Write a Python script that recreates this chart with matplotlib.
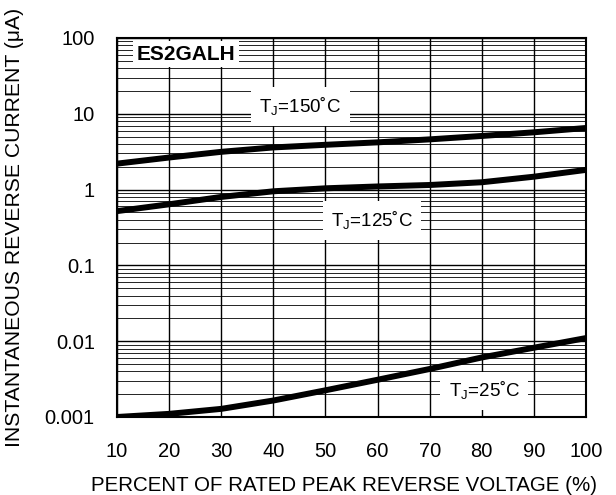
import numpy as np
import matplotlib.pyplot as plt
from matplotlib.ticker import LogLocator, FixedLocator, NullFormatter

plt.rcParams['font.family'] = ['Liberation Sans', 'DejaVu Sans']
plt.rcParams['mathtext.fontset'] = 'custom'
plt.rcParams['mathtext.rm'] = 'Liberation Sans'

# percent of rated peak reverse voltage
volt = [10, 20, 30, 40, 50, 60, 70, 80, 90, 100]
# reverse current (uA)
i_150 = [2.2, 2.65, 3.15, 3.6, 3.9, 4.2, 4.6, 5.1, 5.7, 6.5]
i_125 = [0.52, 0.64, 0.80, 0.95, 1.04, 1.10, 1.15, 1.25, 1.48, 1.82]
i_25 = [0.00100, 0.00110, 0.00128, 0.00165, 0.00225, 0.0031, 0.0043, 0.0061, 0.0082, 0.0110]

xticks = [10, 20, 30, 40, 50, 60, 70, 80, 90, 100]
yticks = [0.001, 0.01, 0.1, 1, 10, 100]
ylabels = ['0.001', '0.01', '0.1', '1', '10', '100']

fig = plt.figure(figsize=(6.16, 4.95), dpi=100)
ax = fig.add_axes([117/616, 1-417/495, 469/616, 379/495])

ax.set_yscale('log')
ax.set_xlim(10, 100)
ax.set_ylim(0.001, 100)

ax.xaxis.set_major_locator(FixedLocator(xticks))
ax.set_yticks(yticks)
ax.set_yticklabels(ylabels)
ax.yaxis.set_minor_locator(LogLocator(base=10, subs=np.arange(2, 10)))
ax.yaxis.set_minor_formatter(NullFormatter())

ax.grid(True, which='major', axis='both', color='black', lw=1.0)
ax.grid(True, which='minor', axis='y', color='black', lw=0.6)
ax.tick_params(axis='y', which='both', length=0, labelsize=14.5, pad=16)
ax.tick_params(axis='x', which='both', length=0, labelsize=14.5, pad=18)
for s in ax.spines.values():
    s.set_linewidth(1.5)

for y in (i_150, i_125, i_25):
    ax.plot(volt, y, color='black', lw=4.3, solid_capstyle='butt', zorder=3)

box = dict(facecolor='white', edgecolor='none', pad=6)
ax.text(13.8, 61, 'ES2GALH', fontsize=15, fontweight='bold', ha='left', va='center',
        bbox=dict(facecolor='white', edgecolor='none', pad=2.5), zorder=4)
ax.text(45.2, 12.5, 'T$_\\mathregular{J}$=150\u02daC', fontsize=13.5, ha='center', va='center', bbox=box, zorder=4)
ax.text(58.9, 0.39, 'T$_\\mathregular{J}$=125\u02daC', fontsize=13.5, ha='center', va='center', bbox=box, zorder=4)
ax.text(80.5, 0.0022, 'T$_\\mathregular{J}$=25\u02daC', fontsize=13.5, ha='center', va='center', bbox=box, zorder=4)

ax.set_xlabel('PERCENT OF RATED PEAK REVERSE VOLTAGE (%)', fontsize=14.8, labelpad=9)
ax.xaxis.set_label_coords(0.485, -0.155)
ax.set_ylabel('INSTANTANEOUS REVERSE CURRENT (\u03bcA)', fontsize=15.2, labelpad=15)

fig.savefig('out.png', dpi=100)
